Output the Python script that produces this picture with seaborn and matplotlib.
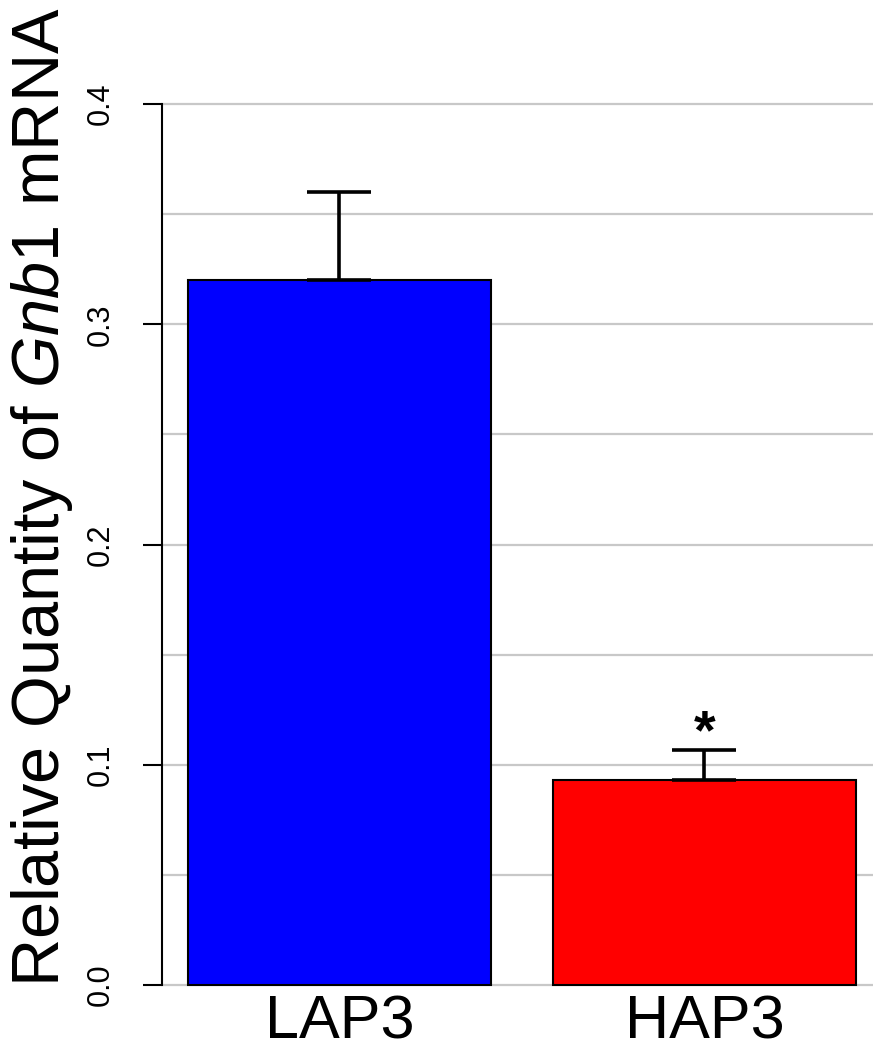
import numpy as np
import pandas as pd
import matplotlib
matplotlib.use("Agg")
import matplotlib.pyplot as plt
import seaborn as sns
from matplotlib.ticker import MultipleLocator

# datos
grupos = ["LAP3", "HAP3"]
medias = [0.320, 0.093]
errores = [0.040, 0.0137]
signif = ["", "*"]
colores = ["#0000FF", "#FF0000"]

sns.set_theme(style="white")
plt.rcParams["font.family"] = ["Liberation Sans", "DejaVu Sans"]
plt.rcParams["mathtext.fontset"] = "custom"
plt.rcParams["mathtext.rm"] = "Liberation Sans"
plt.rcParams["mathtext.it"] = "Liberation Sans:italic"
plt.rcParams["text.color"] = "black"
plt.rcParams["xtick.color"] = "black"
plt.rcParams["ytick.color"] = "black"

df = pd.DataFrame({"grupo": grupos, "media": medias})

fig = plt.figure(figsize=(8.73, 10.59), dpi=100)
W, H = 873, 1059
y0_px, y4_px = 985, 104
ppu = (y0_px - y4_px) / 0.4
ylo, yhi = -0.002, 0.402
bot = y0_px + (0 - ylo) * ppu
top = y4_px - (yhi - 0.4) * ppu
ax = fig.add_axes([162 / W, (H - bot) / H, (873 - 162) / W, (bot - top) / H])

sns.barplot(data=df, x="grupo", y="media", hue="grupo", palette=colores,
            saturation=1, width=0.83, edgecolor="black", linewidth=1.5,
            legend=False, ax=ax, zorder=2)

ax.errorbar(x=np.arange(len(grupos)), y=medias,
            yerr=[np.zeros(len(errores)), errores],
            fmt="none", ecolor="black", elinewidth=2.6, capsize=23,
            capthick=2.6, zorder=3)

for i, s in enumerate(signif):
    if s:
        ax.text(i, medias[i] + errores[i] + 0.001, s, ha="center",
                va="baseline", fontsize=40, fontweight="bold", color="black")

ax.set_xlim(-0.486, 1.4616)
ax.set_ylim(ylo, yhi)
ax.yaxis.set_major_locator(MultipleLocator(0.1))
ax.yaxis.set_minor_locator(MultipleLocator(0.05))
ax.set_axisbelow(True)
ax.grid(axis="y", which="both", color="#c8c8c8", linewidth=1.6, zorder=0)
ax.grid(axis="x", visible=False)

for side in ["top", "right", "bottom"]:
    ax.spines[side].set_visible(False)
ax.spines["left"].set_bounds(0, 0.4)
ax.spines["left"].set_color("black")
ax.spines["left"].set_linewidth(1.5)

ax.tick_params(axis="y", which="major", length=14, width=1.5, color="black",
               labelcolor="black", labelsize=22, pad=19, left=True)
ax.tick_params(axis="y", which="minor", length=0)
ax.tick_params(axis="x", length=0, labelsize=44, pad=4, labelcolor="black")
ax.set_yticks([0.0, 0.1, 0.2, 0.3, 0.4])
ax.set_yticklabels(["0.0", "0.1", "0.2", "0.3", "0.4"])
for lab in ax.get_yticklabels():
    lab.set_rotation(90)
    lab.set_va("center")

ax.set_xlabel("")
ax.set_ylabel("")
fig.text(42 / W, (H - 497) / H, r"Relative Quantity of $\mathit{Gnb}$1 mRNA",
         rotation=90, ha="center", va="center", fontsize=48, color="black")

fig.savefig("out.png", dpi=100)
